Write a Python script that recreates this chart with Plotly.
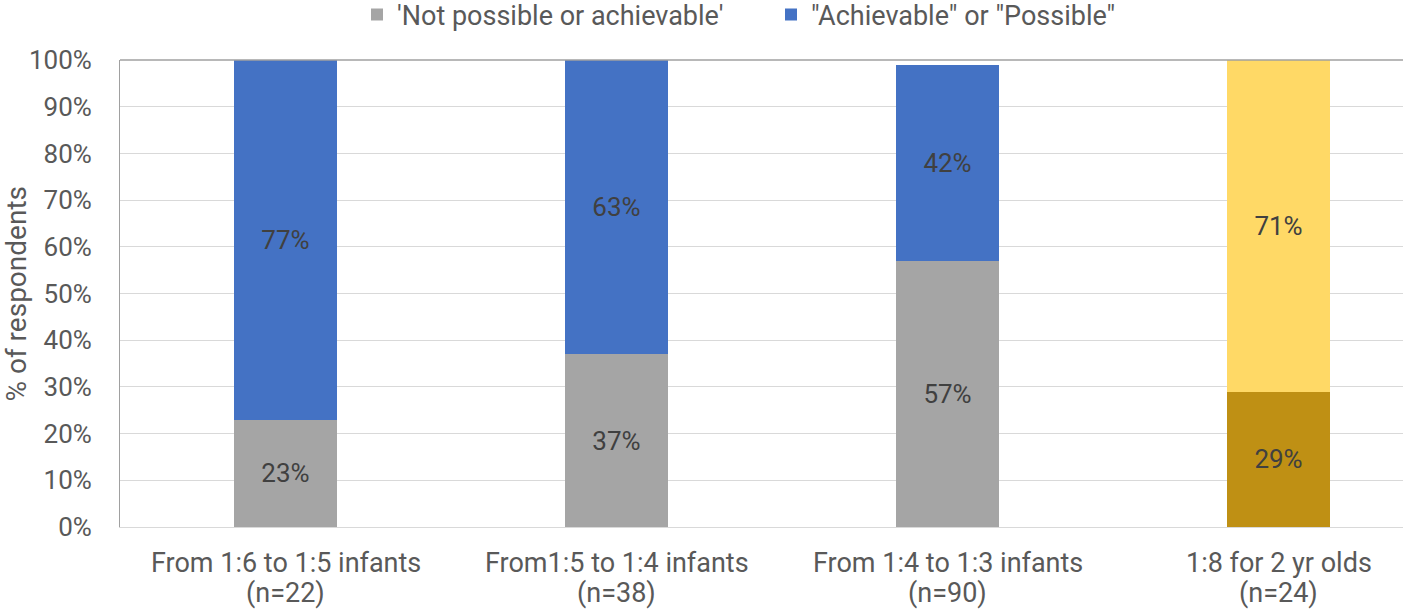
import plotly.graph_objects as go

categories = [
    "From 1:6 to 1:5 infants",
    "From1:5 to 1:4 infants",
    "From 1:4 to 1:3 infants",
    "1:8 for 2 yr olds",
]
sample_sizes = ["(n=22)", "(n=38)", "(n=90)", "(n=24)"]
not_possible = [23, 37, 57, 29]
achievable = [77, 63, 42, 71]

grey_colors = ["#A5A5A5", "#A5A5A5", "#A5A5A5", "#BF9014"]
blue_colors = ["#4472C4", "#4472C4", "#4472C4", "#FFD966"]

FONT = "Roboto, Arial, sans-serif"
TXT = "#595959"
LBL = "#404040"
FS = 26

x_idx = list(range(len(categories)))

fig = go.Figure()
fig.add_trace(go.Bar(
    x=x_idx, y=not_possible, name="'Not possible or achievable'",
    marker=dict(color=grey_colors, line=dict(width=0)),
    text=[f"{v}%" for v in not_possible], textposition="inside",
    insidetextanchor="middle", textfont=dict(family=FONT, size=FS, color=LBL),
    width=0.31, showlegend=False,
))
fig.add_trace(go.Bar(
    x=x_idx, y=achievable, name='"Achievable" or "Possible"',
    marker=dict(color=blue_colors, line=dict(width=0)),
    text=[f"{v}%" for v in achievable], textposition="inside",
    insidetextanchor="middle", textfont=dict(family=FONT, size=FS, color=LBL),
    width=0.31, showlegend=False,
))

# legend swatches: plain squares in the series' base colours
fig.add_trace(go.Scatter(x=[None], y=[None], mode="markers", name="'Not possible or achievable'",
                         marker=dict(symbol="square", size=14, color="#A5A5A5")))
fig.add_trace(go.Scatter(x=[None], y=[None], mode="markers", name='"Achievable" or "Possible"',
                         marker=dict(symbol="square", size=14, color="#4472C4")))

# two-line category labels under each bar
annotations = []
for i, (cat, n) in enumerate(zip(categories, sample_sizes)):
    annotations.append(dict(x=i, xref="x", y=0, yref="paper", text=cat, showarrow=False,
                            yanchor="middle", yshift=-36,
                            font=dict(family=FONT, size=27, color=TXT)))
    annotations.append(dict(x=i, xref="x", y=0, yref="paper", text=n, showarrow=False,
                            yanchor="middle", yshift=-66,
                            font=dict(family=FONT, size=27, color=TXT)))
# y-axis title, offset in pixels from the plot's left edge
annotations.append(dict(x=-(120 - 16) / 1283, xref="paper", y=0.5, yref="paper",
                        text="% of respondents", showarrow=False, textangle=-90,
                        xanchor="center", yanchor="middle",
                        font=dict(family=FONT, size=28, color=TXT)))

fig.update_layout(
    width=1403, height=611,
    margin=dict(l=120, r=0, t=60, b=84),
    barmode="stack",
    plot_bgcolor="white", paper_bgcolor="white",
    font=dict(family=FONT, size=FS, color=TXT),
    legend=dict(orientation="h", xref="container", x=357 / 1403, xanchor="left",
                yref="container", y=1 - 15 / 611, yanchor="middle",
                traceorder="normal",
                font=dict(family=FONT, size=27, color=TXT),
                itemsizing="constant", itemwidth=30, entrywidth=369),
    xaxis=dict(
        tickvals=x_idx, showticklabels=False,
        range=[-0.5, 3.376], showgrid=False, zeroline=False,
        showline=True, linecolor="#D9D9D9", linewidth=1, ticks="",
    ),
    yaxis=dict(
        range=[0, 100], dtick=10, ticksuffix="%",
        showgrid=True, gridcolor="#D9D9D9", gridwidth=1, zeroline=False,
        showline=True, linecolor="#A0A0A0", linewidth=1,
        tickfont=dict(family=FONT, size=FS, color=TXT), ticklabelstandoff=22,
    ),
    annotations=annotations,
    shapes=[dict(type="line", xref="paper", yref="paper", x0=0, x1=1, y0=1, y1=1,
                 line=dict(color="#A0A0A0", width=1.5), layer="above")],
)

fig.write_html("out.html")
